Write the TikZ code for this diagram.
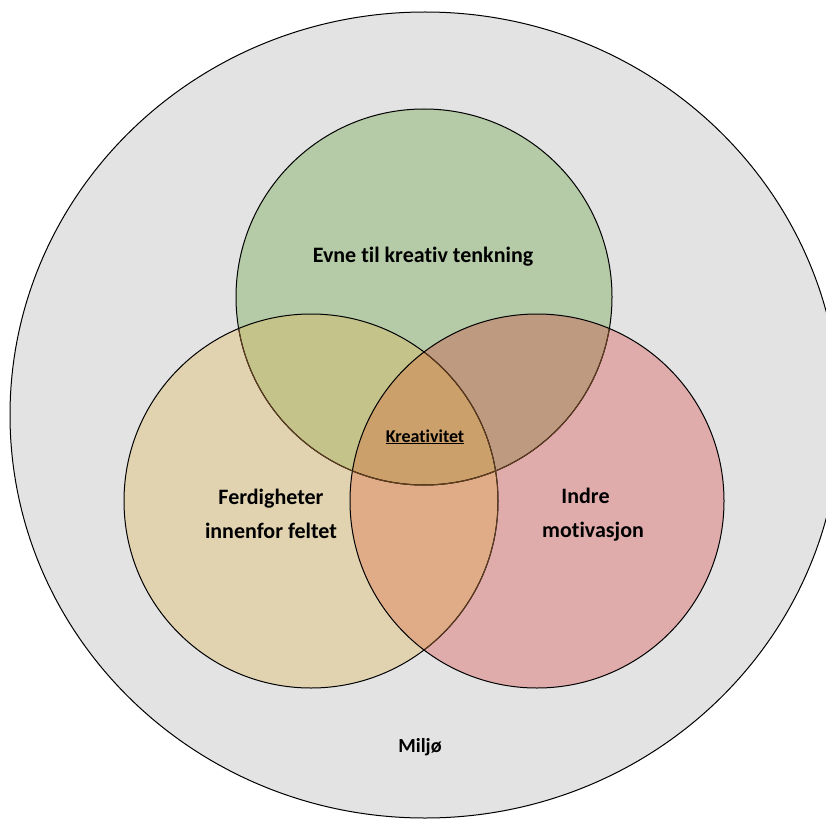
\documentclass[tikz,border=0pt]{standalone}
\usepackage{fontspec}
\setmainfont{Carlito}[Ligatures=NoCommon]
\definecolor{miljofill}{RGB}{227,227,227}
\definecolor{evnefill}{RGB}{181,202,166}
\definecolor{ferdfill}{RGB}{225,211,176}
\definecolor{indrefill}{RGB}{224,171,171}
\definecolor{evneferd}{RGB}{195,195,138}
\definecolor{evneindre}{RGB}{189,154,128}
\definecolor{ferdindre}{RGB}{224,172,136}
\definecolor{kreafill}{RGB}{204,160,106}
\definecolor{underline}{RGB}{95,60,30}
\tikzset{
  ring/.style={draw=black, line width=1pt},
  hidden/.style={draw=underline, line width=1pt},
  biglabel/.style={font=\bfseries\fontsize{22}{34}\selectfont, align=center, inner sep=0pt},
}
\begin{document}
\begin{tikzpicture}[x=1pt,y=-1pt]
\useasboundingbox (0,0) rectangle (826,818);
\clip (0,0) rectangle (826,818);
% Environment around everything
\draw[ring, fill=miljofill] (425,415) ellipse (415pt and 403pt);
\node[font=\bfseries\fontsize{20}{22}\selectfont, anchor=base] (miljo) at (420,752) {Miljø};

% The three circles
\fill[evnefill] (424,297) circle (188pt);
\fill[ferdfill] (311,501) circle (187pt);
\fill[indrefill] (537,501) circle (187pt);

% Overlaps
\begin{scope}
\clip (424,297) circle (188pt);
\fill[evneferd] (311,501) circle (187pt);
\fill[evneindre] (537,501) circle (187pt);
\end{scope}
\begin{scope}
\clip (311,501) circle (187pt);
\fill[ferdindre] (537,501) circle (187pt);
\end{scope}
\begin{scope}
\clip (424,297) circle (188pt);
\clip (311,501) circle (187pt);
\fill[kreafill] (537,501) circle (187pt);
\end{scope}

% Outlines (the ones lying under another circle look brown)
\draw[ring] (424,297) circle (188pt);
\draw[ring] (311,501) circle (187pt);
\draw[ring] (537,501) circle (187pt);
\begin{scope}
\clip (311,501) circle (186pt);
\draw[hidden] (424,297) circle (188pt);
\end{scope}
\begin{scope}
\clip (537,501) circle (186pt);
\draw[hidden] (424,297) circle (188pt);
\draw[hidden] (311,501) circle (187pt);
\end{scope}

% Labels
\node[biglabel, anchor=base] (evne) at (423,262) {Evne til kreativ tenkning};
\node[biglabel, anchor=base] (ferd) at (271,538) {Ferdigheter\\innenfor feltet};
\node[biglabel, anchor=base] (indre) at (593,537) {Indre\hspace*{15pt}\\motivasjon};
\node[font=\bfseries\fontsize{18}{20}\selectfont, anchor=base, inner sep=0pt] (kreativ) at (425,442) {\underline{Kreativitet}};
\end{tikzpicture}
\end{document}
